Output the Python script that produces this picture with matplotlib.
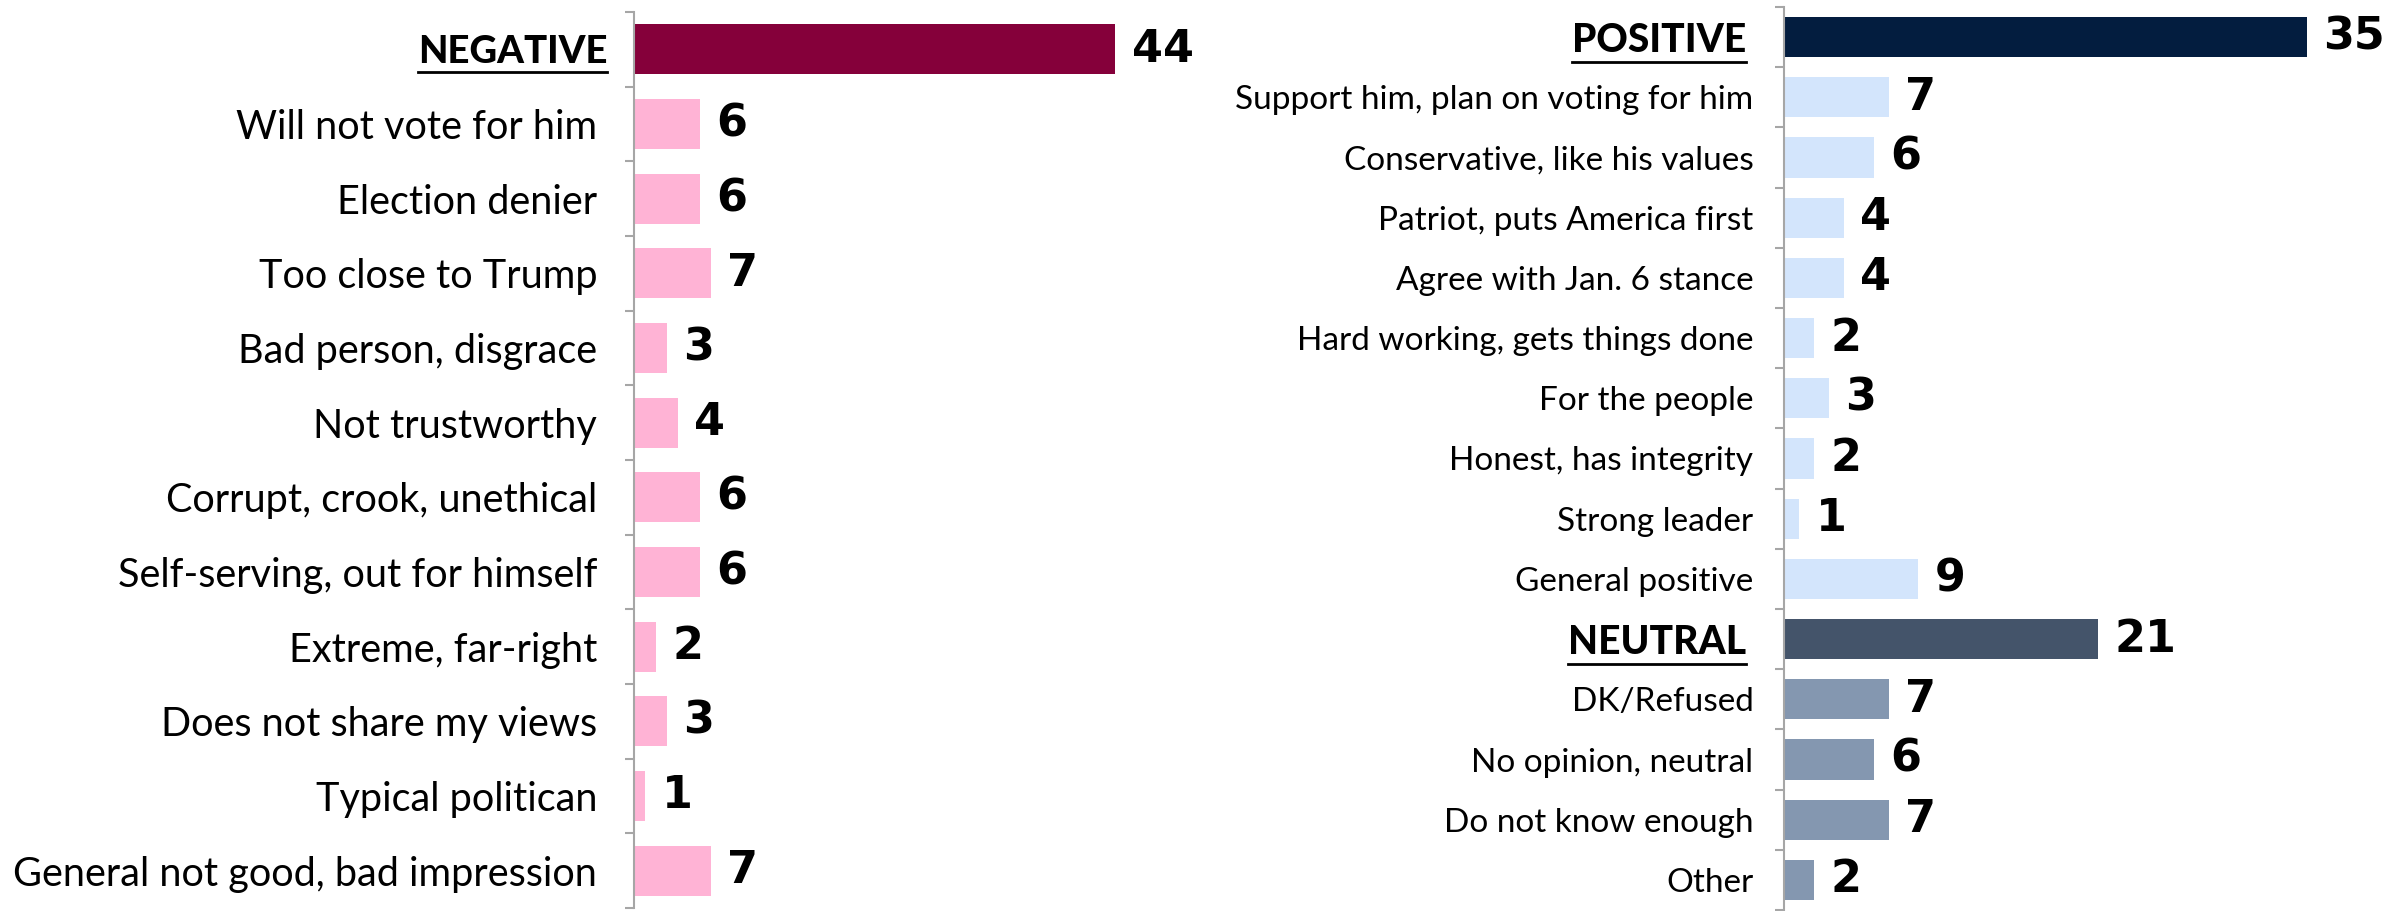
import matplotlib
matplotlib.use("Agg")
import matplotlib.pyplot as plt
from matplotlib.transforms import ScaledTranslation
from matplotlib.lines import Line2D

plt.rcParams['font.family'] = ['Lato', 'DejaVu Sans']

# Data
neg_labels = ["NEGATIVE", "Will not vote for him", "Election denier", "Too close to Trump",
              "Bad person, disgrace", "Not trustworthy", "Corrupt, crook, unethical",
              "Self-serving, out for himself", "Extreme, far-right", "Does not share my views",
              "Typical politican", "General not good, bad impression"]
neg_values = [44, 6, 6, 7, 3, 4, 6, 6, 2, 3, 1, 7]

pos_labels = ["POSITIVE", "Support him, plan on voting for him", "Conservative, like his values",
              "Patriot, puts America first", "Agree with Jan. 6 stance",
              "Hard working, gets things done", "For the people", "Honest, has integrity",
              "Strong leader", "General positive", "NEUTRAL", "DK/Refused",
              "No opinion, neutral", "Do not know enough", "Other"]
pos_values = [35, 7, 6, 4, 4, 2, 3, 2, 1, 9, 21, 7, 6, 7, 2]

headers = {"NEGATIVE", "POSITIVE", "NEUTRAL"}

neg_colors = ["#85003A"] + ["#FFB3D5"] * 11
pos_colors = ["#031D3F"] + ["#D3E5FC"] * 9 + ["#44546A"] + ["#8497B0"] * 4

W, H = 2389, 911
fig = plt.figure(figsize=(W / 100, H / 100), dpi=100)

def px_axes(x0, y_top, x1, y_bot):
    return fig.add_axes([x0 / W, 1 - y_bot / H, (x1 - x0) / W, (y_bot - y_top) / H])

ax1 = px_axes(634, 12, 634 + 50 * 10.93, 908)
ax2 = px_axes(1784, 7, 1784 + 40 * 14.93, 910)


def draw(ax, labels, values, colors, xmax, lab_size, head_size, pad, head_shift):
    n = len(labels)
    y = list(range(n))
    ax.barh(y, values, height=0.67, color=colors, edgecolor='none')
    ax.set_xlim(0, xmax)
    ax.set_ylim(n - 0.5, -0.5)
    for s in ['top', 'right', 'bottom']:
        ax.spines[s].set_visible(False)
    ax.spines['left'].set_color('#A6A6A6')
    ax.spines['left'].set_linewidth(1.5)
    ax.set_xticks([])
    ax.set_yticks(y)
    ax.set_yticklabels(labels, fontsize=lab_size)
    ax.set_yticks([k - 0.5 for k in range(n + 1)], minor=True)
    ax.tick_params(axis='y', which='major', length=0, pad=pad)
    ax.tick_params(axis='y', which='minor', length=6.5, width=1.5, color='#A6A6A6', direction='out')
    for lab in ax.get_yticklabels():
        if lab.get_text() in headers:
            lab.set_fontweight('black')
            lab.set_fontsize(head_size)
            lab.set_transform(lab.get_transform() + ScaledTranslation(head_shift / 100, 0, fig.dpi_scale_trans))
    for yi, v in zip(y, values):
        ax.annotate(str(v), (v, yi), xytext=(12, 0), textcoords='offset points',
                    ha='left', va='center', fontsize=32, fontweight='bold',
                    family='DejaVu Sans')


draw(ax1, neg_labels, neg_values, neg_colors, 50, 28.5, 27.5, 26.5, 10)
draw(ax2, pos_labels, pos_values, pos_colors, 40, 24, 28, 22, -7)

# underline headers
fig.canvas.draw()
r = fig.canvas.get_renderer()
for ax in (ax1, ax2):
    for lab in ax.get_yticklabels():
        if lab.get_text() in headers:
            bb = lab.get_window_extent(r)
            _, _, d = r.get_text_width_height_descent(lab.get_text(), lab.get_fontproperties(), ismath=False)
            yb = bb.y0 + d - 3
            fig.add_artist(Line2D([bb.x0 / W, bb.x1 / W], [yb / H, yb / H],
                                  transform=fig.transFigure, color='black', lw=2))

fig.savefig("out.png", dpi=100, facecolor='white')
